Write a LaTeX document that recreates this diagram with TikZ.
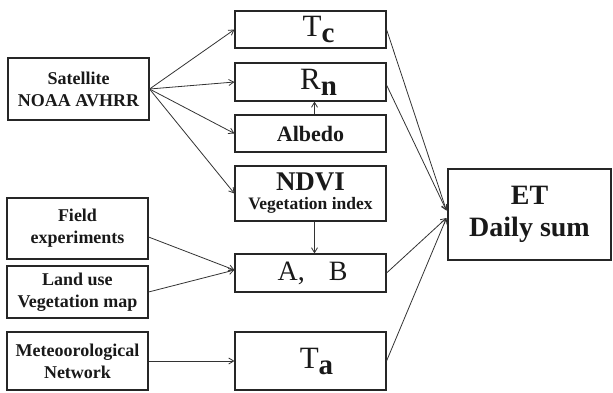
\documentclass[tikz,border=0pt]{standalone}
\usepackage{fontspec}
\setmainfont{Liberation Serif}
\usetikzlibrary{arrows.meta}
\newcommand{\subbig}[1]{\raisebox{-6pt}{\bfseries\fontsize{29}{29}\selectfont #1}}
\begin{document}
\begin{tikzpicture}[x=1pt,y=-1pt,
  box/.style={draw=black!85,line width=1.1pt,inner sep=0pt,align=center,font=\bfseries,text=black!90},
  conn/.style={draw=black!80,line width=0.8pt,-{Straight Barb[length=5pt,width=6pt]}},
  big/.style={font=\fontsize{31}{32}\selectfont},
  sml/.style={font=\bfseries\fontsize{18}{22}\selectfont}]
\useasboundingbox (0,0) rectangle (613,392);
% left column
\node[box,sml,minimum width=141pt,minimum height=62pt] (sat) at (78.5,89) {Satellite\\NOAA AVHRR};
\node[box,sml,minimum width=141pt,minimum height=61pt] (field) at (77.5,228.5) {Field\\experiments};
\node[box,sml,minimum width=141pt,minimum height=52pt] (land) at (77.5,292) {Land use\\Vegetation map};
\node[box,sml,minimum width=141pt,minimum height=58pt] (met) at (77.5,361) {Meteoorological\\Network};
% middle column
\node[box,big,minimum width=151pt,minimum height=37pt] (tc) at (310.5,29.5) {\hspace*{16pt}T\subbig{c}};
\node[box,big,minimum width=151pt,minimum height=38pt] (rn) at (310.5,82) {\hspace*{16pt}R\subbig{n}};
\node[box,font=\bfseries\fontsize{22}{24}\selectfont,minimum width=151pt,minimum height=37pt] (alb) at (310.5,133.5) {Albedo};
\node[box,font=\bfseries\fontsize{18}{19}\selectfont,minimum width=151pt,minimum height=55pt] (ndvi) at (310.5,193.5) {{\fontsize{27}{28}\selectfont NDVI}\\{\fontsize{17.5}{19}\selectfont Vegetation index}};
\node[box,font=\fontsize{28}{30}\selectfont,minimum width=151pt,minimum height=38pt] (ab) at (310.5,273) {\hspace*{4pt}A,\hspace{24pt}B};
\node[box,big,minimum width=151pt,minimum height=58pt] (ta) at (310.5,361) {\hspace*{12pt}T\subbig{a}};
% right
\node[box,font=\bfseries\fontsize{28}{32}\selectfont,minimum width=163pt,minimum height=91pt] (et) at (529.5,214.5) {ET\\Daily sum};
% connectors
\draw[conn] (sat.east) -- (tc.west);
\draw[conn] (sat.east) -- (rn.west);
\draw[conn] (sat.east) -- (alb.west);
\draw[conn] (sat.east) -- (ndvi.west);
\draw[conn] ([xshift=4pt]alb.north) -- ([xshift=4pt]rn.south);
\draw[conn] ([xshift=4pt]ndvi.south) -- ([xshift=4pt]ab.north);
\draw[conn] ([yshift=-8.5pt]field.east) -- ([yshift=3pt]ab.west);
\draw[conn] (land.east) -- ([yshift=3pt]ab.west);
\draw[conn] (met.east) -- (ta.west);
\draw[conn] (tc.east) -- ([xshift=-1pt,yshift=4pt]et.west);
\draw[conn] ([yshift=-3pt]rn.east) -- ([xshift=-1pt,yshift=4pt]et.west);
\draw[conn] (ab.east) -- ([xshift=-1pt,yshift=-3.5pt]et.west);
\draw[conn] (ta.east) -- ([xshift=-1pt,yshift=-3.5pt]et.west);
\end{tikzpicture}
\end{document}
